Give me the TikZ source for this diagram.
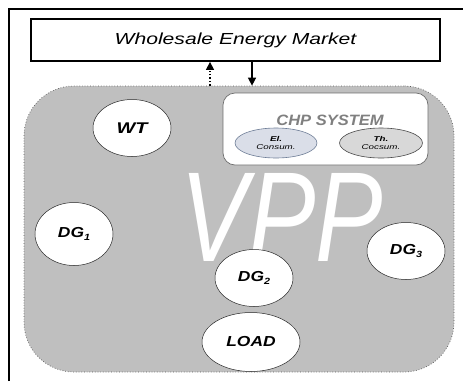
\documentclass[tikz,border=0pt]{standalone}
\usepackage{fontspec}
\setmainfont{Liberation Sans}
\usetikzlibrary{shapes.geometric,arrows.meta}
\definecolor{vppgray}{RGB}{191,191,191}
\definecolor{vppedge}{RGB}{90,90,90}
\definecolor{chpedge}{RGB}{110,110,110}
\definecolor{chptext}{RGB}{128,128,128}
\definecolor{elfill}{RGB}{218,222,232}
\definecolor{eledge}{RGB}{110,125,150}
\definecolor{thfill}{RGB}{216,216,216}
\newcommand{\sx}[2]{\scalebox{#1}[1]{#2}}
\newcommand{\dgsub}[1]{\raisebox{-0.35ex}{\fontsize{9}{9}\selectfont #1}}
\begin{document}
\begin{tikzpicture}[x=1pt,y=-1pt,
  unit/.style={ellipse,draw=black!85,line width=0.5pt,fill=white,inner sep=0pt,
    font=\fontsize{14.5}{14.5}\selectfont\bfseries\itshape},
  cons/.style={ellipse,draw,line width=0.6pt,inner sep=0pt,align=center,
    font=\fontsize{7}{8}\selectfont\itshape},
  arr/.style={-{Triangle[length=8pt,width=8pt]},line width=1.4pt}]
\useasboundingbox (0,0) rectangle (463,381);
% outer frame
\draw[line width=1.4pt] (9,381) -- (9,9) -- (463,9);
% market
\node[draw,line width=1.8pt,minimum width=409pt,minimum height=42pt,inner sep=0pt,
  font=\fontsize{16}{16}\selectfont\itshape] (market) at (235.5,40) {\sx{1.32}{Wholesale Energy Market}};
% VPP area
\node[draw=vppedge,dotted,line width=0.7pt,fill=vppgray,rounded corners=50pt,
  minimum width=430pt,minimum height=286pt,inner sep=0pt] (vpp) at (239,229) {};
\node[text=white,font=\fontsize{128}{128}\selectfont\itshape,inner sep=0pt,
  text depth=0pt,anchor=base] (vpptext) at (282,261) {\sx{0.79}{VPP}};
% arrows
\coordinate (xa) at (210,0);
\coordinate (xb) at (252,0);
\draw[arr,dotted] (vpp.north -| xa) -- (market.south -| xa);
\draw[arr] (market.south -| xb) -- (vpp.north -| xb);
% CHP system
\node[draw=chpedge,line width=0.7pt,fill=white,rounded corners=12pt,
  minimum width=205pt,minimum height=72pt,inner sep=0pt] (chp) at (325.5,129) {};
\node[text=chptext,font=\fontsize{15}{15}\selectfont\bfseries\itshape,inner sep=0pt,
  anchor=base] (chptitle) at (330,125) {\sx{1.1}{CHP SYSTEM}};
\node[cons,fill=elfill,draw=eledge,minimum width=82pt,minimum height=30pt] (el) at (276,143) {\sx{1.4}{\bfseries El.}\\\sx{1.4}{Consum.}};
\node[cons,fill=thfill,draw=black!70,minimum width=83pt,minimum height=30pt] (th) at (381,143) {\sx{1.4}{\bfseries Th.}\\\sx{1.4}{Cocsum.}};
% units
\node[unit,minimum width=78pt,minimum height=57pt,font=\fontsize{15.5}{15.5}\selectfont\bfseries\itshape] (wt) at (132,128) {\sx{1.28}{WT}};
\node[unit,minimum width=78pt,minimum height=63pt] (dg1) at (74,234) {\sx{1.2}{DG\dgsub{1}}};
\node[unit,minimum width=78pt,minimum height=57pt] (dg2) at (254,278) {\sx{1.2}{DG\dgsub{2}}};
\node[unit,minimum width=78pt,minimum height=57pt] (dg3) at (406,251) {\sx{1.2}{DG\dgsub{3}}};
\node[unit,minimum width=98pt,minimum height=59pt] (load) at (251,342) {\sx{1.2}{LOAD}};
\end{tikzpicture}
\end{document}
